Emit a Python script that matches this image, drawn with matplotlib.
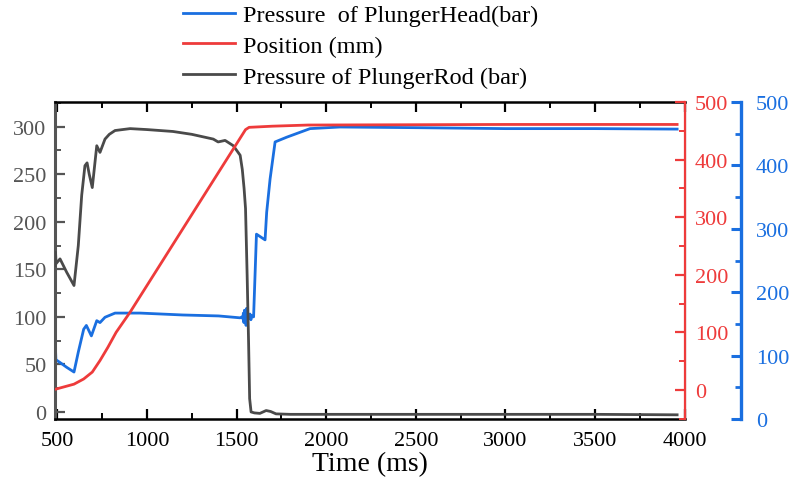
import matplotlib
matplotlib.use("Agg")
import matplotlib.pyplot as plt
from matplotlib.ticker import MultipleLocator

plt.rcParams['font.family'] = ['Liberation Serif', 'DejaVu Serif']

# Pressure of PlungerRod (bar) - left axis
rod_t = [487, 490, 493, 515, 552, 593, 617, 636, 654, 666, 678, 695, 720, 738, 766, 790, 822, 906,
         1000, 1145, 1250, 1370, 1397, 1436, 1482, 1520, 1532, 1542, 1550, 1559, 1567, 1573, 1581,
         1600, 1630, 1665, 1690, 1720, 1800, 2000, 2500, 3000, 3500, 3958]
rod_p = [154, 168, 156, 161, 147, 133, 175, 228, 259, 262, 250, 236, 280, 273, 287, 292, 296, 298,
         297, 295, 292, 287, 284, 285.6, 280, 270, 255, 235, 214, 144, 74, 14, 0,
         -1, -1.5, 1.5, 0.5, -2, -2.5, -2.5, -2.5, -2.5, -2.5, -3]

# Pressure of PlungerHead (bar) - plotted on the pressure scale
head_t = [487, 489, 492, 515, 552, 593, 617, 647, 662, 690, 720, 738, 766, 822, 962, 1200, 1400, 1520,
          1530, 1535, 1538, 1541, 1544, 1547, 1550, 1553, 1556, 1560, 1565, 1570, 1575, 1580, 1585, 1595,
          1611, 1659, 1668, 1687, 1715, 1780, 1910, 2077, 2500, 3000, 3500, 3958]
head_p = [57, 70, 55, 52, 47, 42, 63, 87, 91, 80, 96, 94, 99.6, 104, 104, 102, 101, 99,
          100, 98, 104, 94, 107, 96, 103, 91, 109, 96, 102, 98, 103, 97, 101, 100,
          187, 181, 210, 245, 284, 289, 298, 299.7, 299, 298, 298, 297.5]

# Position (mm) - red axis
pos_t = [487, 593, 647, 695, 738, 782, 828, 906, 1550, 1570, 1700, 1900, 3000, 3958]
pos_mm = [1, 10, 19, 31, 51, 74, 100, 135, 452, 456, 458, 460, 461, 461]

c_blue = '#1a6fe0'
c_red = '#ee3b3b'
c_black = '#4a4a4a'

fig = plt.figure(figsize=(7.93, 4.81), dpi=100)
ax = fig.add_axes([55/793, 1-420/481, 630/793, 317/481])
ax_r = ax.twinx()
ax_b = ax.twinx()

l_head, = ax.plot(head_t, head_p, color=c_blue, lw=2.0, zorder=2)
l_rod, = ax.plot(rod_t, rod_p, color=c_black, lw=2.0, zorder=3)
l_pos, = ax_r.plot(pos_t, pos_mm, color=c_red, lw=2.0)

ax.set_xlim(487, 4002)
ax.set_ylim(-7.4, 326)
ax_r.set_ylim(-50.5, 500)
ax_b.set_ylim(0, 500)

# left axis
ax.yaxis.set_major_locator(MultipleLocator(50))
ax.yaxis.set_minor_locator(MultipleLocator(25))
ax.xaxis.set_major_locator(MultipleLocator(500))
ax.xaxis.set_minor_locator(MultipleLocator(250))
ax.tick_params(axis='y', which='both', direction='in', colors='#555555', labelsize=16, pad=6)
ax.tick_params(axis='y', which='major', length=7, width=1.6)
ax.tick_params(axis='y', which='minor', length=4, width=1.4)
ax.tick_params(axis='x', which='both', direction='in', top=True, labelsize=16, pad=8.5, colors='black')
ax.tick_params(axis='x', which='major', length=7, width=1.6)
ax.tick_params(axis='x', which='minor', length=4, width=1.4)
ax.spines['left'].set_color('#555555')
ax.spines['left'].set_linewidth(2.2)
ax.spines['bottom'].set_linewidth(1.8)
ax.spines['top'].set_linewidth(1.8)
ax.set_xlabel('Time (ms)', fontsize=20, labelpad=1)

# red axis
for s in ['left', 'top', 'bottom']:
    ax_r.spines[s].set_visible(False)
    ax_b.spines[s].set_visible(False)
ax_r.spines['right'].set_color(c_red)
ax_r.spines['right'].set_linewidth(1.6)
ax_r.yaxis.set_major_locator(MultipleLocator(100))
ax_r.yaxis.set_minor_locator(MultipleLocator(50))
ax_r.tick_params(axis='y', which='both', direction='in', colors=c_red, labelsize=16, pad=7)
ax_r.tick_params(axis='y', which='major', length=7, width=1.6)
ax_r.tick_params(axis='y', which='minor', length=4, width=1.4)

# blue axis
ax_b.spines['right'].set_position(('outward', 40))
ax_b.spines['right'].set_color(c_blue)
ax_b.spines['right'].set_linewidth(2.4)
ax_b.yaxis.set_major_locator(MultipleLocator(100))
ax_b.yaxis.set_minor_locator(MultipleLocator(50))
ax_b.tick_params(axis='y', which='both', direction='in', colors=c_blue, labelsize=16, pad=11)
ax_b.tick_params(axis='y', which='major', length=7, width=2.2)
ax_b.tick_params(axis='y', which='minor', length=4, width=2.0)

fig.legend([l_head, l_pos, l_rod],
           ['Pressure  of PlungerHead(bar)', 'Position (mm)', 'Pressure of PlungerRod (bar)'],
           loc='upper left', bbox_to_anchor=(183/793, 1-5/481), frameon=False,
           fontsize=17.5, handlelength=2.15, handletextpad=0.33, labelspacing=0.36,
           borderpad=0, borderaxespad=0)

fig.savefig('out.png', dpi=100)
